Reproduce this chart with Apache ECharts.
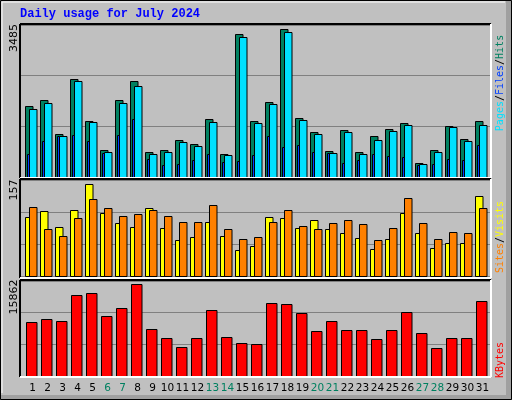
<!DOCTYPE html>
<html><head><meta charset="utf-8">
<script src="https://cdn.jsdelivr.net/npm/echarts@6/dist/echarts.min.js"></script>
<style>html,body{margin:0;padding:0;background:#c0c0c0}#c{width:512px;height:400px}</style>
</head><body><div id="c"></div>
<script>
const days = ['1','2','3','4','5','6','7','8','9','10','11','12','13','14','15','16','17','18','19','20','21','22','23','24','25','26','27','28','29','30','31'];
const weekend = ['6','7','13','14','20','21','27','28'];
const hits  = [1639,1754,996,2237,1294,628,1754,2190,582,628,858,766,1340,536,3270,1294,1731,3385,1363,1042,605,1088,582,950,1111,1248,329,628,1180,881,1294];
const pages = [1570,1708,950,2190,1271,582,1708,2076,536,582,812,720,1271,513,3202,1248,1685,3317,1317,996,559,1042,536,858,1065,1203,306,582,1157,835,1203];
const files = [536,820,934,973,835,559,973,1340,421,283,306,398,536,352,375,513,950,697,743,582,559,329,398,536,490,467,283,306,421,398,743];
const visits = [96,106,80,108,151,103,87,80,111,78,59,64,88,66,43,49,96,95,78,91,77,70,62,44,61,103,70,46,54,54,131];
const sites  = [113,77,65,95,126,111,98,101,108,98,88,88,116,77,61,64,88,108,82,77,87,92,85,59,79,128,87,61,72,71,111];
const kbytes = [8936,9439,9104,13460,13795,9941,11282,15303,7931,6423,4915,6423,10947,6590,5585,5417,12120,11952,10444,7596,9104,7763,7763,6255,7763,10612,7261,4747,6423,6423,12455];
const maxTop = 3485, maxMid = 157, maxBot = 15862;

function barSeries(idx, data, color, x0, x1){
  return {type:'custom', xAxisIndex:idx, yAxisIndex:idx,
    data: data.map((v,i)=>[i,v]),
    renderItem:(params, api)=>{
      const p = api.coord([api.value(0), api.value(1)]);
      const b = api.coord([api.value(0), 0]);
      return {type:'rect', shape:{x:Math.round(p[0]+x0)+0.5, y:Math.round(p[1])+0.5, width:x1-x0, height:Math.round(b[1]-p[1])},
        style:{fill:color, stroke:'#000', lineWidth:1}};
    }};
}
const G = [{top:25,h:152},{top:180,h:96},{top:281,h:95}];
const grids = G.map(g=>({left:20, right:21, top:g.top, height:g.h}));
grids.push({left:25, right:22, top:281, height:95});
const xAxes = [0,1,2].map(i=>({type:'value', gridIndex:i, min:-0.7333, max:30.6667, show:false}));
xAxes.push({type:'category', gridIndex:3, data:days, axisLine:{show:false}, axisTick:{show:false},
  axisLabel:{margin:7, fontFamily:'DejaVu Sans', fontSize:10.5, interval:0,
   color:(v)=> weekend.includes(v)?'#008060':'#000'}});
const mk = (i,m)=>({type:'value', gridIndex:i, min:0, max:m, interval:m/3, axisLabel:{show:false}, axisLine:{show:false}, axisTick:{show:false}, splitLine:{show:true, lineStyle:{color:'#808080', width:1}}});
const yAxes = [mk(0,maxTop), mk(1,maxMid), mk(2,maxBot), {type:'value', gridIndex:3, show:false}];

const gfx = [];
function frame(x0,y0,x1,y1){
  gfx.push({type:'line', shape:{x1:x0,y1:y0,x2:x1,y2:y0}, style:{stroke:'#000',lineWidth:2}, z:100});
  gfx.push({type:'line', shape:{x1:x0,y1:y0,x2:x0,y2:y1}, style:{stroke:'#000',lineWidth:2}, z:100});
  gfx.push({type:'line', shape:{x1:x1,y1:y0,x2:x1,y2:y1}, style:{stroke:'#fff',lineWidth:2}, z:100});
  gfx.push({type:'line', shape:{x1:x0,y1:y1,x2:x1,y2:y1}, style:{stroke:'#fff',lineWidth:2}, z:100});
}
frame(20,24,491,178); frame(20,179,491,278); frame(20,280,491,377);
gfx.push({type:'rect', shape:{x:506,y:0,width:6,height:400}, style:{fill:'#a0a0a0'}});
gfx.push({type:'rect', shape:{x:0,y:395,width:512,height:5}, style:{fill:'#a0a0a0'}});
gfx.push({type:'rect', shape:{x:0.5,y:0.5,width:511,height:399}, style:{fill:'none',stroke:'#000',lineWidth:1}});
gfx.push({type:'line', shape:{x1:2,y1:2,x2:2,y2:393}, style:{stroke:'#fff',lineWidth:1}});
gfx.push({type:'line', shape:{x1:2,y1:2,x2:505,y2:2}, style:{stroke:'#fff',lineWidth:1}});
gfx.push({type:'text', left:20, top:8, style:{text:'Daily usage for July 2024', fill:'#0000ff', font:'bold 12px "Liberation Mono"'}});
const F = '10px "DejaVu Sans Mono"';
function vtext(x,y,rich,text){
  gfx.push({type:'text', x:x, y:y, rotation:Math.PI/2, style:{text:text, rich:rich, font:F, align:'center', verticalAlign:'middle'}});
}
vtext(500,83,{p:{fill:'#00e0ff',font:F},s:{fill:'#000',font:F},f:{fill:'#0040ff',font:F},h:{fill:'#008060',font:F}},'{p|Pages}{s|/}{f|Files}{s|/}{h|Hits}');
vtext(500,237,{a:{fill:'#ff8000',font:F},s:{fill:'#000',font:F},b:{fill:'#ffff00',font:F}},'{a|Sites}{s|/}{b|Visits}');
vtext(500,360,{k:{fill:'#ff0000',font:F}},'{k|KBytes}');
const LF = '11px "DejaVu Sans"';
[[maxTop,38],[maxMid,190],[maxBot,297]].forEach(([t,y])=>{
  gfx.push({type:'text', x:14, y:y, rotation:Math.PI/2, style:{text:String(t), font:LF, fill:'#000', align:'center', verticalAlign:'middle'}});
});

const chart = echarts.init(document.getElementById('c'));
chart.setOption({
  backgroundColor:'#c0c0c0', animation:false,
  grid:grids, xAxis:xAxes, yAxis:yAxes,
  series:[
    barSeries(0,hits,'#008060',-6,1.5),
    barSeries(0,pages,'#00e0ff',-2,5.5),
    barSeries(0,files,'#0040ff',-4,-2),
    barSeries(1,visits,'#ffff00',-6,1.5),
    barSeries(1,sites,'#ff8000',-2,5.5),
    barSeries(2,kbytes,'#ff0000',-5,5.5),
    {type:'bar', xAxisIndex:3, yAxisIndex:3, data:[]}
  ],
  graphic:gfx
});
</script></body></html>
